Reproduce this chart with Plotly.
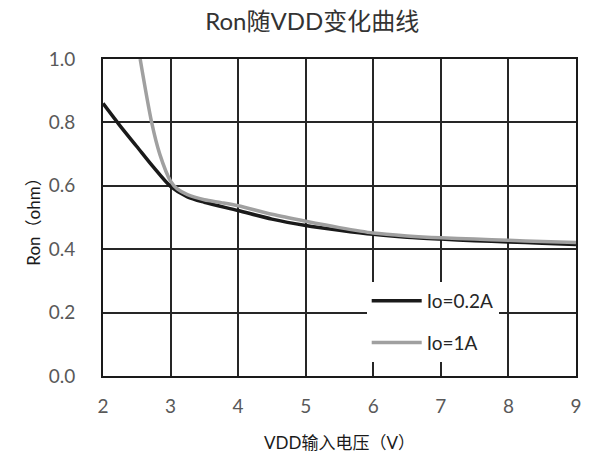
import plotly.graph_objects as go

# Data
x_02 = [2.0, 2.25, 2.5, 2.75, 3.0, 3.25, 3.5, 4.0, 4.5, 5.0, 5.5, 6.0, 6.5, 7.0, 7.5, 8.0, 8.5, 9.0]
y_02 = [0.86, 0.79, 0.724, 0.658, 0.598, 0.565, 0.548, 0.522, 0.495, 0.475, 0.46, 0.447, 0.438, 0.432, 0.427, 0.423, 0.419, 0.415]

x_1 = [2.55, 2.72, 2.84, 3.0, 3.1, 3.25, 3.5, 3.75, 4.0, 4.5, 5.0, 5.5, 6.0, 6.5, 7.0, 7.5, 8.0, 8.5, 9.0]
y_1 = [1.0, 0.80, 0.70, 0.615, 0.59, 0.572, 0.556, 0.547, 0.537, 0.51, 0.488, 0.468, 0.451, 0.442, 0.436, 0.432, 0.428, 0.424, 0.421]

names = ["Io=0.2A", "Io=1A"]
title_text = "Ron随VDD变化曲线"
x_title = "VDD输入电压（V）"
y_title = "Ron（ohm）"

FONT = "Lato, Noto Sans CJK SC, sans-serif"

fig = go.Figure()
fig.add_trace(go.Scatter(x=x_02, y=y_02, mode="lines", name=names[0],
                         line=dict(color="#1a1a1a", width=3.5, shape="spline", smoothing=0.8),
                         legendgroup="a"))
fig.add_trace(go.Scatter(x=x_1, y=y_1, mode="lines", name=names[1],
                         line=dict(color="#a0a0a0", width=3.5, shape="spline", smoothing=0.8),
                         legendgroup="b"))

fig.update_layout(
    width=597, height=455,
    margin=dict(l=103, r=21, t=59, b=79, autoexpand=False),
    paper_bgcolor="white", plot_bgcolor="white",
    font=dict(family=FONT, size=19, color="#595959"),
    title=dict(text=title_text, x=0.523, xref="container", xanchor="center",
               y=0.952, yref="container", yanchor="middle",
               font=dict(family=FONT, size=24, color="#333333")),
    showlegend=True,
    legend=dict(x=0.5575, y=0.297, xanchor="left", yanchor="top",
                bgcolor="white", borderwidth=0,
                font=dict(family=FONT, size=19, color="#262626"),
                tracegroupgap=14, itemwidth=50),
)
fig.update_xaxes(range=[2, 9], dtick=1, tick0=2, showgrid=True, gridcolor="#262626", gridwidth=1.5,
                 showline=True, linecolor="#1a1a1a", linewidth=2, mirror=True, zeroline=False,
                 ticks="", ticklabelstandoff=12, automargin=False,
                 title=dict(text=x_title, standoff=21, font=dict(family=FONT, size=17, color="#1a1a1a")))
fig.update_yaxes(range=[0, 1], dtick=0.2, tick0=0, tickformat=".1f", showgrid=True, gridcolor="#262626",
                 gridwidth=1.5, showline=True, linecolor="#1a1a1a", linewidth=2, mirror=True,
                 zeroline=False, ticks="", ticklabelstandoff=22, automargin=False,
                 title=dict(text=y_title, standoff=4, font=dict(family=FONT, size=17, color="#1a1a1a")))

fig.write_html("out.html", config={"displayModeBar": False},
               post_script="document.body.style.margin='0';document.body.style.overflow='hidden';")
